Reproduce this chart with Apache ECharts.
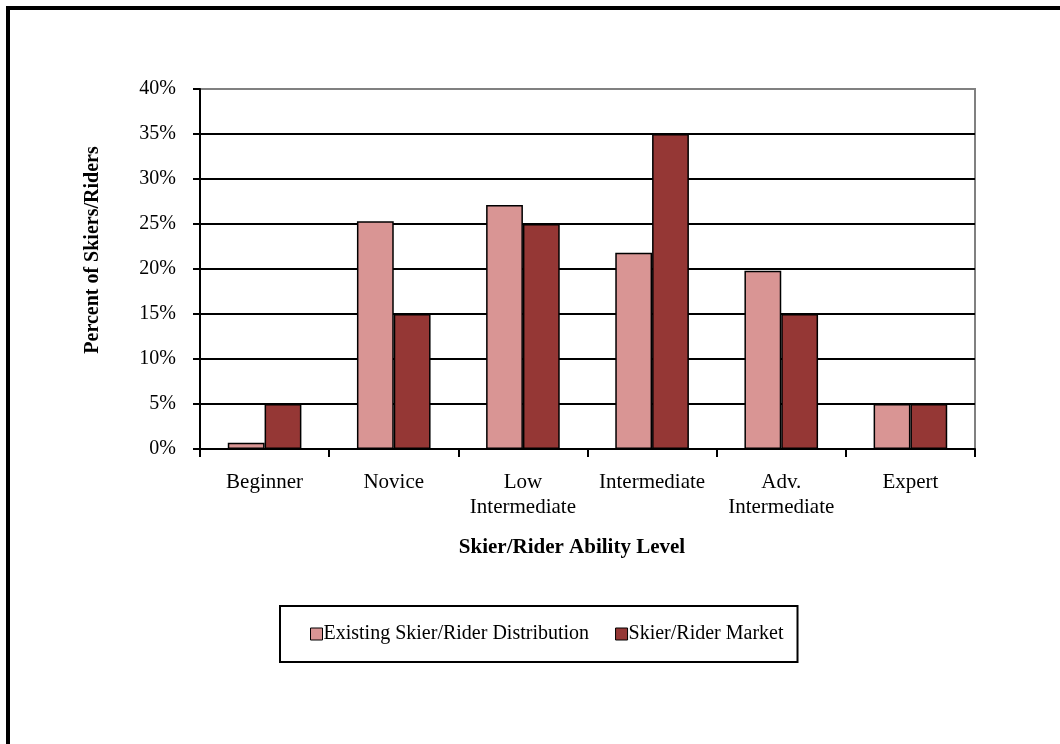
<!DOCTYPE html>
<html>
<head>
<meta charset="utf-8">
<script src="https://cdn.jsdelivr.net/npm/echarts@6/dist/echarts.min.js"></script>
<style>
  html, body { margin: 0; padding: 0; background: #fff; }
  #chart { width: 1060px; height: 744px; }
</style>
</head>
<body>
<div id="chart"></div>
<script>
// ability levels on the x axis
const levels = ['Beginner', 'Novice', 'Low\nIntermediate', 'Intermediate', 'Adv.\nIntermediate', 'Expert'];

// percent of skiers/riders per level
const existingDist = [0.7, 25.3, 27.1, 21.8, 19.8, 5];
const marketDist = [5, 15, 25, 35, 15, 5];

const seriesNames = ['Existing Skier/Rider Distribution', 'Skier/Rider Market'];

const font = '"Liberation Serif", "Times New Roman", serif';

const chart = echarts.init(document.getElementById('chart'));

const options = {
  backgroundColor: '#fff',
  animation: false,
  textStyle: { fontFamily: font },
  grid: {
    left: 200, top: 89, width: 775, height: 360,
    show: true, borderColor: '#808080', borderWidth: 2, backgroundColor: 'transparent'
  },
  legend: {
    data: seriesNames,
    left: 280, top: 606,
    padding: [18, 14, 18, 30],
    borderColor: '#000', borderWidth: 2,
    itemWidth: 12, itemHeight: 12, itemGap: 26,
    icon: 'rect',
    itemStyle: { borderColor: '#000', borderWidth: 1 },
    textStyle: { fontFamily: font, fontSize: 20, color: '#000', padding: [0, 0, 0, -4] }
  },
  xAxis: {
    type: 'category',
    data: levels,
    axisLine: { lineStyle: { color: '#000', width: 2 } },
    axisTick: { show: true, length: 8, lineStyle: { color: '#000', width: 2 } },
    axisLabel: { interval: 0, color: '#000', fontSize: 21, lineHeight: 25, margin: 21, fontFamily: font },
    splitLine: { show: false }
  },
  yAxis: {
    type: 'value',
    min: 0, max: 40, interval: 5,
    axisLine: { show: true, lineStyle: { color: '#000', width: 2 } },
    axisTick: { show: true, length: 7, lineStyle: { color: '#000', width: 2 } },
    axisLabel: { color: '#000', fontSize: 20, margin: 24, fontFamily: font, formatter: '{value}%' },
    splitLine: { show: true, showMaxLine: false, lineStyle: { color: '#000', width: 2 } }
  },
  graphic: [
    {
      type: 'rect', silent: true, z: 100,
      shape: { x: 8, y: 8, width: 1080, height: 780 },
      style: { fill: 'none', stroke: '#000', lineWidth: 4 }
    },
    {
      type: 'text', x: 93, y: 250, rotation: Math.PI / 2,
      style: {
        text: 'Percent of Skiers/Riders', fill: '#000',
        font: 'bold 20px ' + font, textAlign: 'center', textVerticalAlign: 'middle'
      }
    },
    {
      type: 'text', x: 572, y: 548,
      style: {
        text: 'Skier/Rider Ability Level', fill: '#000',
        font: 'bold 21px ' + font, textAlign: 'center', textVerticalAlign: 'middle'
      }
    }
  ],
  series: [
    {
      name: seriesNames[0],
      type: 'bar',
      data: existingDist,
      barGap: '0%',
      barCategoryGap: '43%',
      itemStyle: { color: '#D99594', borderColor: '#000', borderWidth: 1.5 }
    },
    {
      name: seriesNames[1],
      type: 'bar',
      data: marketDist,
      itemStyle: { color: '#953735', borderColor: '#000', borderWidth: 1.5 }
    }
  ]
};

chart.setOption(options);
</script>
</body>
</html>
